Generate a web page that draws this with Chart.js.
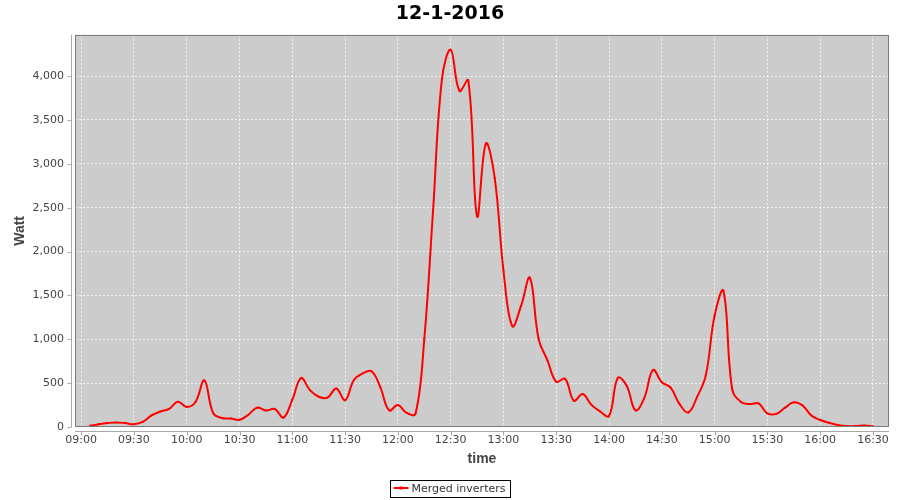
<!DOCTYPE html>
<html lang="en">
  <head>
    <meta charset="UTF-8" />
    <title>12-1-2016</title>
    <script src="https://cdn.jsdelivr.net/npm/chart.js"></script>
    <style>
      html, body { margin: 0; padding: 0; background: #fff; }
    </style>
  </head>
  <body>
    <canvas id="power" width="900" height="500"></canvas>

    <script>
      // data, one sample every 5 minutes
      const times = [
        "09:05", "09:10", "09:15", "09:20", "09:25", "09:30", "09:35", "09:40", "09:45", "09:50", "09:55",
        "10:00", "10:05", "10:10", "10:15", "10:20", "10:25", "10:30", "10:35", "10:40", "10:45", "10:50", "10:55",
        "11:00", "11:05", "11:10", "11:15", "11:20", "11:25", "11:30", "11:35", "11:40", "11:45", "11:50", "11:55",
        "12:00", "12:05", "12:10", "12:15", "12:20", "12:25", "12:30", "12:35", "12:40", "12:45", "12:50", "12:55",
        "13:00", "13:05", "13:10", "13:15", "13:20", "13:25", "13:30", "13:35", "13:40", "13:45", "13:50", "13:55",
        "14:00", "14:05", "14:10", "14:15", "14:20", "14:25", "14:30", "14:35", "14:40", "14:45", "14:50", "14:55",
        "15:00", "15:05", "15:10", "15:15", "15:20", "15:25", "15:30", "15:35", "15:40", "15:45", "15:50", "15:55",
        "16:00", "16:05", "16:10", "16:15", "16:20", "16:25", "16:30",
      ];
      const watts = [
        15, 32, 45, 52, 45, 32, 58, 132, 176, 206, 288,
        228, 285, 532, 160, 103, 97, 82, 140, 220, 187, 205, 108,
        312, 558, 420, 345, 335, 440, 305, 535, 610, 635, 455, 190,
        250, 160, 150, 1000, 2470, 3960, 4300, 3830, 3950, 2400, 3230, 2840,
        1783, 1150, 1380, 1700, 1000, 760, 515, 550, 300, 375, 252, 176,
        125, 560, 470, 190, 330, 650, 510, 450, 263, 165, 340, 590,
        1270, 1550, 430, 285, 262, 268, 155, 150, 220, 282, 245, 130,
        80, 48, 22, 10, 10, 18, 8,
      ];
      const timeTicks = [
        "09:00", "09:30", "10:00", "10:30", "11:00", "11:30", "12:00", "12:30",
        "13:00", "13:30", "14:00", "14:30", "15:00", "15:30", "16:00", "16:30",
      ];
      const wattTicks = [0, 500, 1000, 1500, 2000, 2500, 3000, 3500, 4000];
      const seriesName = "Merged inverters";

      const toMin = (s) => {
        const [h, m] = s.split(":").map(Number);
        return h * 60 + m;
      };
      const fmtMin = (v) => {
        const h = Math.floor(v / 60);
        const m = Math.round(v - h * 60);
        return String(h).padStart(2, "0") + ":" + String(m).padStart(2, "0");
      };

      const points = times.map((t, i) => ({ x: toMin(t), y: watts[i] }));

      const FONT = "DejaVu Sans";

      // gray plot background, outline, offset axis lines, tick marks and the boxed legend
      const plotFrame = {
        id: "plotFrame",
        beforeDraw(chart) {
          const { ctx, chartArea: a } = chart;
          ctx.save();
          ctx.fillStyle = "#cccccc";
          ctx.fillRect(a.left, a.top, a.right - a.left, a.bottom - a.top);
          ctx.restore();
        },
        afterDraw(chart) {
          const { ctx, chartArea: a, scales } = chart;
          ctx.save();
          ctx.strokeStyle = "#7a7a7a";
          ctx.lineWidth = 1;
          ctx.strokeRect(Math.round(a.left) + 0.5, Math.round(a.top) + 0.5,
            Math.round(a.right - a.left) - 1, Math.round(a.bottom - a.top) - 1);

          ctx.strokeStyle = "#a8a8a8";
          const ax = Math.round(a.left) - 4 + 0.5;
          const ay = Math.round(a.bottom) + 4 + 0.5;
          ctx.beginPath();
          ctx.moveTo(ax, a.top);
          ctx.lineTo(ax, a.bottom);
          ctx.moveTo(a.left, ay);
          ctx.lineTo(a.right, ay);
          wattTicks.forEach((v) => {
            const y = Math.round(scales.y.getPixelForValue(v)) + 0.5;
            ctx.moveTo(ax - 4, y);
            ctx.lineTo(ax, y);
          });
          timeTicks.forEach((t) => {
            const x = Math.round(scales.x.getPixelForValue(toMin(t))) + 0.5;
            ctx.moveTo(x, ay);
            ctx.lineTo(x, ay + 4);
          });
          ctx.stroke();

          // legend
          ctx.font = "11px '" + FONT + "'";
          const tw = ctx.measureText(seriesName).width;
          const w = Math.round(tw + 26);
          const lx = Math.round(450 - w / 2) + 0.5;
          const ly = 480.5;
          ctx.strokeStyle = "#000";
          ctx.strokeRect(lx, ly, w, 17);
          ctx.strokeStyle = "#ff0000";
          ctx.lineWidth = 2;
          ctx.beginPath();
          ctx.moveTo(lx + 3, ly + 7.5);
          ctx.lineTo(lx + 18, ly + 7.5);
          ctx.stroke();
          ctx.fillStyle = "#ff0000";
          ctx.fillRect(lx + 9, ly + 6, 3, 3);
          ctx.fillStyle = "#333";
          ctx.textBaseline = "middle";
          ctx.fillText(seriesName, lx + 21, ly + 9);
          ctx.restore();
        },
      };

      new Chart(document.getElementById("power"), {
        type: "line",
        data: {
          datasets: [
            {
              label: seriesName,
              data: points,
              borderColor: "#ff0000",
              backgroundColor: "#ff0000",
              borderWidth: 2,
              pointRadius: 1,
              pointBorderWidth: 0,
              tension: 0.4,
              fill: false,
            },
          ],
        },
        options: {
          responsive: false,
          animation: false,
          layout: { padding: { left: 11, right: 11, top: 0, bottom: 28 } },
          plugins: {
            legend: { display: false },
            tooltip: { enabled: false },
            title: {
              display: true,
              text: "12-1-2016",
              color: "#000",
              font: { family: FONT, size: 19, weight: "bold" },
              padding: { top: 3, bottom: 9 },
            },
          },
          scales: {
            x: {
              type: "linear",
              min: 536.5,
              max: 999.1,
              afterBuildTicks: (s) => {
                s.ticks = timeTicks.map((t) => ({ value: toMin(t) }));
              },
              afterFit: (s) => {
                s.height = 45;
              },
              ticks: {
                callback: (v) => fmtMin(v),
                color: "#444",
                font: { family: FONT, size: 11 },
                padding: 7,
                maxRotation: 0,
                autoSkip: false,
              },
              grid: { color: "rgba(255,255,255,0.75)", lineWidth: 1, drawTicks: false },
              border: { display: false, dash: [2, 2] },
              title: {
                display: true,
                text: "time",
                color: "#444",
                font: { family: "Liberation Sans", size: 14, weight: "bold" },
                padding: { top: 4, bottom: 4 },
              },
            },
            y: {
              min: 0,
              max: 4470,
              afterBuildTicks: (s) => {
                s.ticks = wattTicks.map((v) => ({ value: v }));
              },
              afterFit: (s) => {
                s.width = 64;
              },
              ticks: {
                callback: (v) => v.toLocaleString("en-US"),
                color: "#444",
                font: { family: FONT, size: 11 },
                padding: 11,
              },
              grid: { color: "rgba(255,255,255,0.75)", lineWidth: 1, drawTicks: false },
              border: { display: false, dash: [2, 2] },
              title: {
                display: true,
                text: "Watt",
                color: "#444",
                font: { family: "Liberation Sans", size: 14, weight: "bold" },
                padding: { top: 1, bottom: 4 },
              },
            },
          },
        },
        plugins: [plotFrame],
      });
    </script>
  </body>
</html>
